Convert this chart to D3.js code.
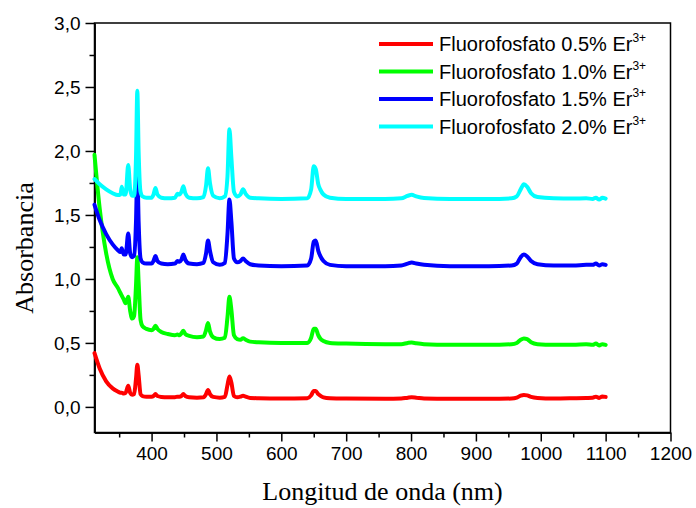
<!DOCTYPE html>
<html>
<head>
<meta charset="utf-8">
<script src="https://cdn.jsdelivr.net/npm/d3@7"></script>
<style>
  body { margin: 0; background: #fff; }
  svg { display: block; }
  .tick text { font-family: "Liberation Sans", Arial, sans-serif; font-size: 19px; fill: #000; }
  .axis path, .axis line { stroke: #000; stroke-width: 1.5px; }
</style>
</head>
<body>
<svg id="chart" width="696" height="508"></svg>
<script>
// Wavelength grid (nm), shared by all four spectra
const wavelengths = [312, 320, 330, 340, 348, 352, 354, 357, 360, 364, 367, 370, 373, 376, 378, 380, 383, 386, 392, 400,
  403, 406, 409, 415, 425, 436, 440, 443, 446, 449, 452, 458, 470, 480, 484, 487, 490, 495, 505, 513,
  517, 520, 523, 527, 532, 537, 541, 545, 552, 565, 600, 640, 646, 650, 653, 657, 660, 665, 675, 700,
  760, 785, 795, 801, 808, 820, 860, 920, 955, 963, 969, 974, 979, 985, 995, 1020, 1050, 1070, 1080, 1085,
  1090, 1095, 1100];

// Absorbance values
const er05 = [0.42, 0.30, 0.20, 0.145, 0.12, 0.11, 0.11, 0.105, 0.11, 0.165, 0.11, 0.095, 0.10, 0.22, 0.33, 0.25, 0.10, 0.085, 0.08, 0.08,
  0.085, 0.10, 0.085, 0.078, 0.075, 0.075, 0.08, 0.08, 0.085, 0.10, 0.085, 0.075, 0.072, 0.075, 0.10, 0.133, 0.10, 0.078, 0.072, 0.078,
  0.17, 0.237, 0.19, 0.085, 0.075, 0.08, 0.088, 0.08, 0.07, 0.068, 0.066, 0.068, 0.09, 0.125, 0.125, 0.10, 0.088, 0.075, 0.068, 0.065,
  0.063, 0.065, 0.072, 0.075, 0.072, 0.066, 0.063, 0.063, 0.065, 0.072, 0.088, 0.094, 0.09, 0.078, 0.07, 0.066, 0.068, 0.07, 0.072, 0.08,
  0.07, 0.082, 0.078];

const er10 = [1.97, 1.55, 1.20, 1.00, 0.93, 0.89, 0.87, 0.84, 0.81, 0.86, 0.75, 0.69, 0.71, 0.95, 1.17, 0.98, 0.68, 0.63, 0.61, 0.60,
  0.61, 0.635, 0.61, 0.585, 0.57, 0.56, 0.565, 0.56, 0.575, 0.595, 0.57, 0.555, 0.545, 0.55, 0.60, 0.655, 0.59, 0.545, 0.53, 0.54,
  0.70, 0.86, 0.76, 0.56, 0.53, 0.525, 0.537, 0.525, 0.51, 0.505, 0.50, 0.50, 0.54, 0.61, 0.61, 0.56, 0.535, 0.515, 0.50, 0.495,
  0.49, 0.49, 0.50, 0.503, 0.497, 0.49, 0.485, 0.485, 0.49, 0.50, 0.525, 0.535, 0.53, 0.505, 0.49, 0.485, 0.485, 0.49, 0.485, 0.495,
  0.48, 0.49, 0.485];

const er15 = [1.58, 1.46, 1.35, 1.27, 1.225, 1.21, 1.24, 1.19, 1.19, 1.355, 1.20, 1.17, 1.18, 1.45, 1.85, 1.45, 1.16, 1.13, 1.12, 1.12,
  1.14, 1.18, 1.14, 1.12, 1.115, 1.12, 1.14, 1.135, 1.15, 1.19, 1.15, 1.12, 1.115, 1.125, 1.20, 1.30, 1.22, 1.13, 1.11, 1.125,
  1.35, 1.62, 1.45, 1.16, 1.13, 1.14, 1.16, 1.14, 1.115, 1.105, 1.10, 1.105, 1.16, 1.29, 1.30, 1.22, 1.18, 1.14, 1.11, 1.10,
  1.10, 1.105, 1.12, 1.128, 1.12, 1.11, 1.10, 1.10, 1.105, 1.12, 1.17, 1.19, 1.175, 1.14, 1.115, 1.105, 1.105, 1.11, 1.11, 1.12,
  1.105, 1.115, 1.11];

const er20 = [1.78, 1.74, 1.70, 1.67, 1.655, 1.66, 1.72, 1.66, 1.66, 1.89, 1.70, 1.65, 1.65, 1.95, 2.47, 2.00, 1.68, 1.645, 1.635, 1.635,
  1.66, 1.71, 1.66, 1.635, 1.63, 1.635, 1.665, 1.66, 1.68, 1.725, 1.67, 1.635, 1.63, 1.64, 1.73, 1.865, 1.75, 1.65, 1.63, 1.645,
  1.80, 2.17, 1.95, 1.68, 1.645, 1.66, 1.70, 1.665, 1.635, 1.63, 1.625, 1.63, 1.70, 1.88, 1.86, 1.74, 1.70, 1.66, 1.635, 1.625,
  1.625, 1.63, 1.65, 1.657, 1.645, 1.632, 1.625, 1.625, 1.63, 1.645, 1.70, 1.74, 1.72, 1.67, 1.64, 1.63, 1.628, 1.63, 1.625, 1.635,
  1.62, 1.635, 1.628];

const seriesNames = ['Fluorofosfato 0.5% Er', 'Fluorofosfato 1.0% Er', 'Fluorofosfato 1.5% Er', 'Fluorofosfato 2.0% Er'];
const seriesValues = [er05, er10, er15, er20];
const seriesColours = ['#ff0000', '#00ff00', '#0000ff', '#00ffff'];

const xTicks = [400, 500, 600, 700, 800, 900, 1000, 1100, 1200];
const yTicks = [0, 0.5, 1.0, 1.5, 2.0, 2.5, 3.0];

const svg = d3.select('#chart');
const margin = { left: 94.5, right: 696 - 670.5, top: 23, bottom: 508 - 432.5 };
const width = 696 - margin.left - margin.right;
const height = 508 - margin.top - margin.bottom;

const x = d3.scaleLinear().domain([312, 1200]).range([0, width]);
const y = d3.scaleLinear().domain([-0.2, 3.0]).range([height, 0]);

const g = svg.append('g').attr('transform', `translate(${margin.left},${margin.top})`);

// Minor ticks first
g.append('g')
  .attr('class', 'axis')
  .attr('transform', `translate(0,${height})`)
  .call(d3.axisBottom(x).tickValues(d3.range(350, 1200, 100)).tickSize(5).tickSizeOuter(0).tickFormat(''));
g.append('g')
  .attr('class', 'axis')
  .call(d3.axisLeft(y).tickValues(d3.range(0.25, 3, 0.5)).tickSize(5).tickSizeOuter(0).tickFormat(''));

// Major ticks
const comma = v => d3.format('.1f')(v).replace('.', ',');
g.append('g')
  .attr('class', 'axis')
  .attr('transform', `translate(0,${height})`)
  .call(d3.axisBottom(x).tickValues(xTicks).tickSize(9).tickSizeOuter(0).tickPadding(4).tickFormat(d3.format('d')))
  .selectAll('text').attr('dy', '0.78em');
g.append('g')
  .attr('class', 'axis')
  .call(d3.axisLeft(y).tickValues(yTicks).tickSize(9).tickSizeOuter(0).tickPadding(5).tickFormat(comma));

// Frame
g.append('rect')
  .attr('width', width).attr('height', height)
  .attr('fill', 'none').attr('stroke', '#000').attr('stroke-width', 1.5);

// Spectra
const line = d3.line()
  .x((d, i) => x(wavelengths[i]))
  .y(d => y(d))
  .curve(d3.curveMonotoneX);

g.selectAll('.spectrum')
  .data(seriesValues)
  .enter().append('path')
    .attr('class', 'spectrum')
    .attr('d', line)
    .attr('fill', 'none')
    .attr('stroke', (d, i) => seriesColours[i])
    .attr('stroke-width', 4)
    .attr('stroke-linejoin', 'round')
    .attr('stroke-linecap', 'round');

// Legend
const legend = svg.append('g').attr('transform', 'translate(379,44)');
const items = legend.selectAll('.item')
  .data(seriesNames)
  .enter().append('g')
    .attr('class', 'item')
    .attr('transform', (d, i) => `translate(0,${i * 27.5})`);
items.append('line')
  .attr('x1', 0).attr('x2', 54)
  .attr('stroke', (d, i) => seriesColours[i])
  .attr('stroke-width', 4);
const labels = items.append('text')
  .attr('x', 60).attr('y', 7)
  .style('font-family', '"Liberation Sans", Arial, sans-serif')
  .style('font-size', '20px');
labels.append('tspan').text(d => d);
labels.append('tspan')
  .attr('dy', -9)
  .style('font-size', '12px')
  .text('3+');

// Axis titles
svg.append('text')
  .attr('x', margin.left + width / 2)
  .attr('y', 500)
  .attr('text-anchor', 'middle')
  .style('font-family', '"Liberation Serif", "Times New Roman", serif')
  .style('font-size', '26px')
  .text('Longitud de onda (nm)');

svg.append('text')
  .attr('transform', 'translate(33,248) rotate(-90)')
  .attr('text-anchor', 'middle')
  .style('font-family', '"Liberation Serif", "Times New Roman", serif')
  .style('font-size', '26px')
  .text('Absorbancia');
</script>
</body>
</html>
